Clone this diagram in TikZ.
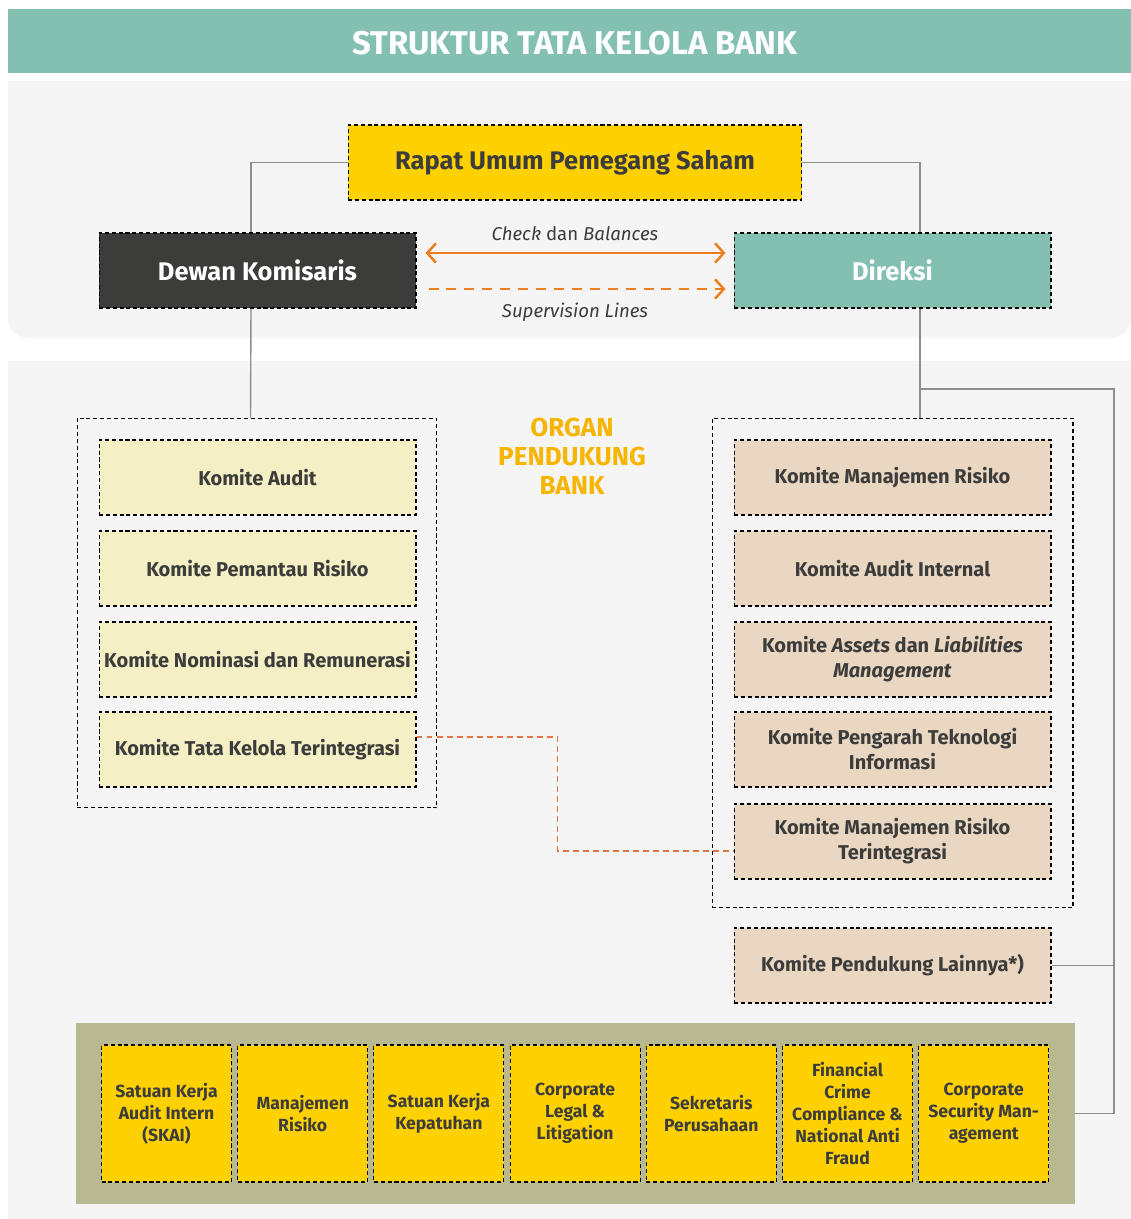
\documentclass[tikz,border=0pt]{standalone}
\usepackage{fontspec}
\setmainfont{Fira Sans}
\usetikzlibrary{arrows.meta,positioning}

\definecolor{tealbar}{HTML}{84C0B2}
\definecolor{panelgray}{HTML}{F5F5F5}
\definecolor{rupsyellow}{HTML}{FFD100}
\definecolor{darkbox}{HTML}{3C3C3B}
\definecolor{inkgray}{HTML}{3C3C3B}
\definecolor{creamfill}{HTML}{F5EFC6}
\definecolor{beigefill}{HTML}{E9D7C2}
\definecolor{olivefill}{HTML}{B8B991}
\definecolor{arroworange}{HTML}{EE7D1E}
\definecolor{linkorange}{HTML}{E07442}
\definecolor{organorange}{HTML}{F7B500}
\definecolor{linegray}{HTML}{8E8E8E}

\begin{document}
\begin{tikzpicture}[
    x=0.02cm, y=-0.02cm,
    dashbox/.style={draw=black, line width=0.6pt, dash pattern=on 2.3pt off 1.6pt},
    boardnode/.style={dashbox, minimum width=6.34cm, minimum height=1.5cm, inner sep=2pt,
        font=\fontsize{14.5}{17}\selectfont\bfseries},
    komnode/.style={dashbox, minimum width=6.34cm, minimum height=1.5cm, inner sep=1pt,
        align=center, text=inkgray, font=\fontsize{11.4}{14.2}\selectfont\bfseries},
    unitnode/.style={dashbox, fill=rupsyellow, minimum width=2.6cm, minimum height=2.74cm,
        inner sep=1pt, align=center, text=inkgray, font=\fontsize{10}{12.5}\selectfont\bfseries},
    groupnode/.style={dashbox, inner sep=0pt},
    link/.style={draw=linegray, line width=0.8pt},
    flowlabel/.style={text=inkgray, font=\fontsize{10.6}{13}\selectfont}
]
\useasboundingbox (0,0) rectangle (1131,1219);
\fill[white] (0,0) rectangle (1131,1219);

% Background panels
\fill[tealbar] (8,9) rectangle (1131,73);
\fill[panelgray, rounded corners=0.4cm] (8,81) rectangle (1131,338);
\fill[panelgray] (8,81) rectangle (1131,150);
\fill[panelgray] (8,361) rectangle (1131,1219);
\node[text=white, font=\fontsize{18.7}{22}\selectfont\bfseries] (title) at (575,43) {STRUKTUR TATA KELOLA BANK};

% Top level organs
\node[boardnode, fill=rupsyellow, text=inkgray, minimum width=9.08cm] (rups) at (575,162.5) {Rapat Umum Pemegang Saham};
\node[boardnode, fill=darkbox, text=white] (dewan) at (257.5,270.5) {Dewan Komisaris};
\node[boardnode, fill=tealbar, text=white] (direksi) at (892.5,270.5) {Direksi};

\draw[link] (rups.west) -| ([xshift=-0.13cm]dewan.north);
\draw[link] (rups.east) -| ([xshift=0.55cm]direksi.north);

% Check and supervision lines
\draw[arroworange, line width=1.4pt, {Straight Barb[length=5pt,width=11pt]}-{Straight Barb[length=5pt,width=11pt]},
    shorten <=0.18cm, shorten >=0.16cm] ([yshift=0.35cm]dewan.east) -- ([yshift=0.35cm]direksi.west)
    node[flowlabel, midway, above=3pt] (cb) {\textit{Check} dan \textit{Balances}};
\draw[arroworange, line width=1.4pt, dash pattern=on 5.7pt off 4.5pt, -{Straight Barb[length=5pt,width=11pt]},
    shorten <=0.24cm, shorten >=0.16cm] ([yshift=-0.37cm]dewan.east) -- ([yshift=-0.37cm]direksi.west)
    node[flowlabel, midway, below=4pt] (sl) {\textit{Supervision Lines}};

% Committees under Dewan Komisaris
\node[groupnode, minimum width=7.2cm, minimum height=7.8cm] (lgroup) at (257,613) {};
\node[komnode, fill=creamfill] (ka) at (257.5,477.5) {Komite Audit};
\node[komnode, fill=creamfill] (kpr) at (257.5,568.5) {Komite Pemantau Risiko};
\node[komnode, fill=creamfill] (knr) at (257.5,659.5) {Komite Nominasi dan Remunerasi};
\node[komnode, fill=creamfill] (ktk) at (257.5,749.5) {Komite Tata Kelola Terintegrasi};

\node[text=organorange, align=center, font=\fontsize{14.8}{16.4}\selectfont\bfseries] (organ) at (572,456) {ORGAN\\PENDUKUNG\\BANK};

% Committees under Direksi
\node[groupnode, minimum width=7.22cm, minimum height=9.8cm] (rgroup) at (892.5,663) {};
\node[komnode, fill=beigefill] (kmr) at (892.5,477.5) {Komite Manajemen Risiko};
\node[komnode, fill=beigefill] (kai) at (892.5,568.5) {Komite Audit Internal};
\node[komnode, fill=beigefill] (kalm) at (892.5,659.5) {Komite \textit{Assets} dan \textit{Liabilities}\\\textit{Management}};
\node[komnode, fill=beigefill] (kpti) at (892.5,749.5) {Komite Pengarah Teknologi\\Informasi};
\node[komnode, fill=beigefill] (kmrt) at (892.5,841.5) {Komite Manajemen Risiko\\Terintegrasi};
\node[komnode, fill=beigefill] (kpl) at (892.5,965.5) {Komite Pendukung Lainnya*)};

\draw[link] ([xshift=-0.13cm]dewan.south) -- ([xshift=-0.13cm]lgroup.north);
\draw[link] ([xshift=0.55cm]direksi.south) -- ([xshift=0.55cm]rgroup.north);
\draw[linkorange, line width=0.6pt, dash pattern=on 3.4pt off 2.3pt]
    ([yshift=0.25cm]ktk.east) -- ++(141,0) |- ([yshift=-0.19cm]kmrt.west);

% Supporting units
\node[fill=olivefill, minimum width=19.98cm, minimum height=3.62cm, inner sep=0pt] (bpanel) at (575.5,1113.5) {};
\foreach \i/\unit in {0/{Satuan Kerja\\Audit Intern\\(SKAI)}, 1/{Manajemen\\Risiko},
    2/{Satuan Kerja\\Kepatuhan}, 3/{Corporate\\Legal \&\\Litigation}, 4/{Sekretaris\\Perusahaan},
    5/{Financial\\Crime\\Compliance \&\\National Anti\\Fraud}, 6/{Corporate\\Security Man-\\agement}} {
    \node[unitnode] (u\i) at (166.5+136.2*\i,1113.5) {\unit};
}

% Direksi rail to the supporting units
\coordinate (tap) at (920,389);
\coordinate (rail) at (1114,389);
\draw[link] (tap) -- (rail) |- (bpanel.east);
\draw[link] (kpl.east) -- (rail |- kpl.east);
\end{tikzpicture}
\end{document}
